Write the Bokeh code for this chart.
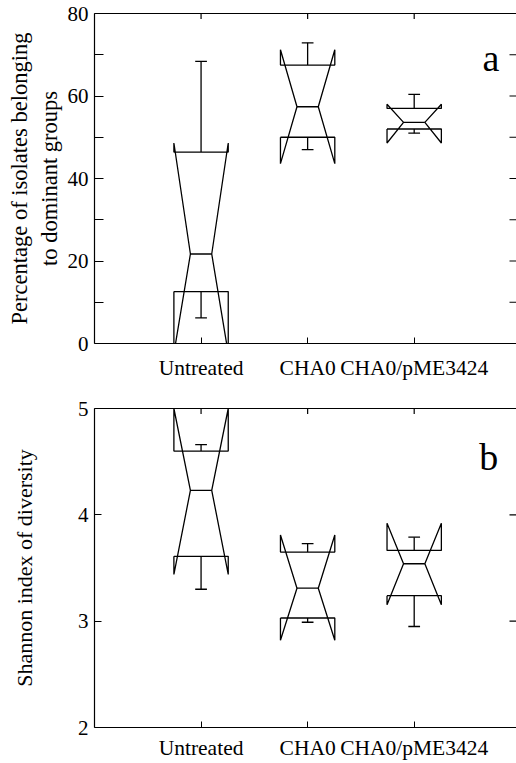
import math
from bokeh.plotting import figure
from bokeh.models import Range1d, FixedTicker, LinearAxis, Label
from bokeh.layouts import column
from bokeh.embed import file_html
from bokeh.resources import INLINE

# ---------------- data ----------------
groups = ["Untreated", "CHA0", "CHA0/pME3424"]
positions = [1, 2, 3]
x_start, x_end = 0, 3.96

# panel a: percentage of isolates belonging to dominant groups
a_q1 = [12.6, 50.0, 52.0]
a_median = [21.7, 57.4, 53.6]
a_q3 = [46.4, 67.5, 57.0]
a_notch_lo = [-2.4, 43.6, 48.6]
a_notch_hi = [48.6, 71.2, 58.0]
a_whisk_lo = [6.2, 47.0, 51.0]
a_whisk_hi = [68.4, 72.9, 60.4]
a_ticks = [0, 10, 20, 30, 40, 50, 60, 70, 80]
a_tick_labels = {0: "0", 10: "", 20: "20", 30: "", 40: "40", 50: "", 60: "60", 70: "", 80: "80"}

# panel b: Shannon index of diversity
b_q1 = [3.61, 3.03, 3.24]
b_median = [4.23, 3.31, 3.54]
b_q3 = [4.60, 3.65, 3.665]
b_notch_lo = [3.44, 2.82, 3.155]
b_notch_hi = [5.0, 3.81, 3.92]
b_whisk_lo = [3.30, 2.99, 2.95]
b_whisk_hi = [4.66, 3.73, 3.79]
b_ticks = [2, 3, 4, 5]

FONT = "Liberation Serif"


def box_paths(q1, med, q3, nlo, nhi, hw=0.255, mw=0.1):
    xs, ys = [], []
    for c, lo_q, m, hi_q, lo, hi in zip(positions, q1, med, q3, nlo, nhi):
        xs.append([c - hw, c + hw, c + hw, c + mw, c + hw, c + hw,
                   c - hw, c - hw, c - mw, c - hw, c - hw])
        ys.append([lo_q, lo_q, lo, m, hi, hi_q, hi_q, hi, m, lo, lo_q])
        xs.append([c - mw, c + mw])
        ys.append([m, m])
    return xs, ys


def whisker_paths(q1, q3, wlo, whi, cw=0.055):
    xs, ys = [], []
    for c, lo_q, hi_q, lo, hi in zip(positions, q1, q3, wlo, whi):
        xs.append([c, c]); ys.append([hi_q, hi])
        xs.append([c - cw, c + cw]); ys.append([hi, hi])
        xs.append([c, c]); ys.append([lo_q, lo])
        xs.append([c - cw, c + cw]); ys.append([lo, lo])
    return xs, ys


def make_panel(y_start, y_end, yticks, ylabels, ylabel, title_size, data, letter, letter_xy,
               height, b_left, b_top, b_bottom, tick_len, label_standoff,
               x_label_standoff, x_label_size):
    p = figure(width=516, height=height,
               x_range=Range1d(x_start, x_end), y_range=Range1d(y_start, y_end),
               output_backend="svg", toolbar_location=None,
               x_axis_location=None, y_axis_location=None,
               min_border_left=b_left, min_border_right=0,
               min_border_top=b_top, min_border_bottom=b_bottom)
    p.outline_line_color = None
    p.background_fill_color = "white"
    p.border_fill_color = "white"
    p.xgrid.visible = False
    p.ygrid.visible = False

    # left axis
    left = LinearAxis(ticker=FixedTicker(ticks=yticks), axis_label=ylabel)
    left.major_label_overrides = ylabels
    left.major_tick_in = tick_len
    left.major_tick_out = 0
    left.minor_tick_line_color = None
    left.major_label_standoff = 6
    left.major_label_text_font = FONT
    left.major_label_text_font_size = "21px"
    left.major_label_text_color = "black"
    left.axis_label_text_font = FONT
    left.axis_label_text_font_size = title_size
    left.axis_label_text_font_style = "normal"
    left.axis_label_text_color = "black"
    left.axis_label_standoff = label_standoff
    left.axis_line_color = "black"
    left.axis_line_width = 1.2
    left.major_tick_line_color = "black"
    p.add_layout(left, "left")

    # bottom axis
    bottom = LinearAxis(ticker=FixedTicker(ticks=positions))
    bottom.major_label_overrides = {pos: g for pos, g in zip(positions, groups)}
    bottom.major_tick_in = 6
    bottom.major_tick_out = 0
    bottom.minor_tick_line_color = None
    bottom.major_label_standoff = x_label_standoff
    bottom.major_label_text_font = FONT
    bottom.major_label_text_font_size = x_label_size
    bottom.major_label_text_color = "black"
    bottom.axis_line_color = "black"
    bottom.axis_line_width = 1.2
    p.add_layout(bottom, "below")

    # top frame line (no ticks from the axis itself)
    top = LinearAxis(ticker=FixedTicker(ticks=[]))
    top.major_tick_in = 0
    top.major_tick_out = 0
    top.minor_tick_line_color = None
    top.major_label_standoff = 0
    top.axis_line_color = "black"
    top.axis_line_width = 1.2
    p.add_layout(top, "above")

    # inward ticks on top and right edges (half of each dash is clipped by the frame)
    p.scatter(x=positions, y=[y_end] * len(positions), marker="dash", angle=math.pi / 2,
              size=11, line_color="black", line_width=1.2)
    p.scatter(x=[x_end] * len(yticks), y=yticks, marker="dash",
              size=14, line_color="black", line_width=1.2)

    q1, med, q3, nlo, nhi, wlo, whi = data
    bx, by = box_paths(q1, med, q3, nlo, nhi)
    p.multi_line(bx, by, line_color="black", line_width=1.3)
    wx, wy = whisker_paths(q1, q3, wlo, whi)
    p.multi_line(wx, wy, line_color="black", line_width=1.3)

    p.add_layout(Label(x=letter_xy[0], y=letter_xy[1], text=letter,
                       text_font=FONT, text_font_size="38px", text_color="black",
                       text_align="center", text_baseline="alphabetic"))
    return p


pa = make_panel(0, 80, a_ticks, a_tick_labels,
                "Percentage of isolates belonging\nto dominant groups", "22.5px",
                (a_q1, a_median, a_q3, a_notch_lo, a_notch_hi, a_whisk_lo, a_whisk_hi),
                "a", (3.72, 69.2),
                height=382, b_left=94, b_top=13, b_bottom=37, tick_len=9,
                label_standoff=3, x_label_standoff=12, x_label_size="21.5px")

pb = make_panel(2, 5, b_ticks, {t: str(t) for t in b_ticks},
                "Shannon index of diversity", "22px",
                (b_q1, b_median, b_q3, b_notch_lo, b_notch_hi, b_whisk_lo, b_whisk_hi),
                "b", (3.70, 4.54),
                height=380, b_left=90, b_top=26, b_bottom=32, tick_len=7,
                label_standoff=38, x_label_standoff=8, x_label_size="21.5px")

layout = column(pa, pb, spacing=0)
open("out.html", "w").write(file_html(layout, INLINE))
